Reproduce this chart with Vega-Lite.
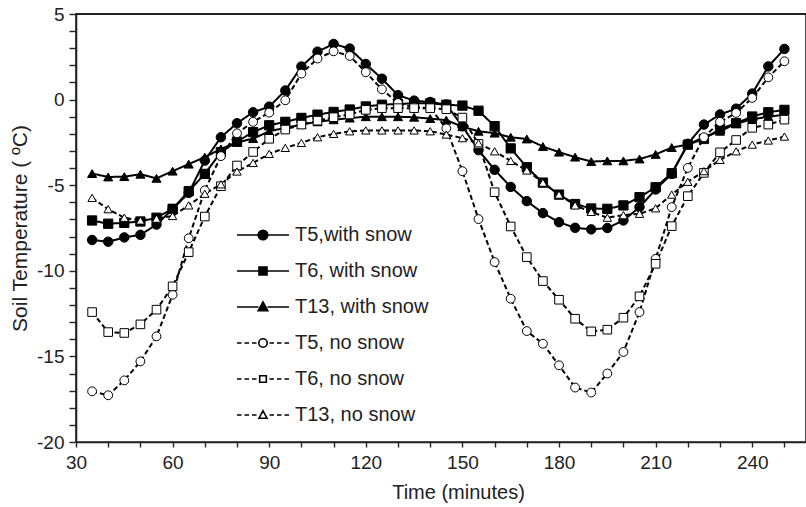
{
"$schema":"https://vega.github.io/schema/vega-lite/v6.json",
"width":730,"height":428,
"autosize":{"type":"none"},
"padding":{"left":76,"top":14,"right":0,"bottom":65},
"background":"white",
"config":{"view":{"stroke":"#222","strokeWidth":1.6},"font":"Liberation Sans",
 "axis":{"grid":false,"domainColor":"#222","tickColor":"#222","labelColor":"#222","titleColor":"#222","labelFont":"Liberation Sans","titleFont":"Liberation Sans","labelFontSize":19,"titleFontSize":20,"titleFontWeight":"normal","domainWidth":1.6,"tickWidth":1.4}},
"data":{"values":[
{"t":35,"v":-8.2,"series":"T5,with snow"},{"t":40,"v":-8.3,"series":"T5,with snow"},{"t":45,"v":-8.05,"series":"T5,with snow"},{"t":50,"v":-7.9,"series":"T5,with snow"},{"t":55,"v":-7.3,"series":"T5,with snow"},{"t":60,"v":-6.4,"series":"T5,with snow"},{"t":65,"v":-5.45,"series":"T5,with snow"},{"t":70,"v":-3.56,"series":"T5,with snow"},{"t":75,"v":-2.2,"series":"T5,with snow"},{"t":80,"v":-1.38,"series":"T5,with snow"},{"t":85,"v":-0.74,"series":"T5,with snow"},{"t":90,"v":-0.41,"series":"T5,with snow"},{"t":95,"v":0.53,"series":"T5,with snow"},{"t":100,"v":1.93,"series":"T5,with snow"},{"t":105,"v":2.8,"series":"T5,with snow"},{"t":110,"v":3.25,"series":"T5,with snow"},{"t":115,"v":2.98,"series":"T5,with snow"},{"t":120,"v":2.08,"series":"T5,with snow"},{"t":125,"v":1.22,"series":"T5,with snow"},{"t":130,"v":0.26,"series":"T5,with snow"},{"t":135,"v":-0.06,"series":"T5,with snow"},{"t":140,"v":-0.14,"series":"T5,with snow"},{"t":145,"v":-0.29,"series":"T5,with snow"},{"t":150,"v":-1.56,"series":"T5,with snow"},{"t":155,"v":-2.95,"series":"T5,with snow"},{"t":160,"v":-4.1,"series":"T5,with snow"},{"t":165,"v":-5.1,"series":"T5,with snow"},{"t":170,"v":-5.93,"series":"T5,with snow"},{"t":175,"v":-6.63,"series":"T5,with snow"},{"t":180,"v":-7.16,"series":"T5,with snow"},{"t":185,"v":-7.49,"series":"T5,with snow"},{"t":190,"v":-7.58,"series":"T5,with snow"},{"t":195,"v":-7.5,"series":"T5,with snow"},{"t":200,"v":-7.06,"series":"T5,with snow"},{"t":205,"v":-6.28,"series":"T5,with snow"},{"t":210,"v":-5.25,"series":"T5,with snow"},{"t":215,"v":-4.34,"series":"T5,with snow"},{"t":220,"v":-2.58,"series":"T5,with snow"},{"t":225,"v":-1.46,"series":"T5,with snow"},{"t":230,"v":-0.87,"series":"T5,with snow"},{"t":235,"v":-0.53,"series":"T5,with snow"},{"t":240,"v":0.35,"series":"T5,with snow"},{"t":245,"v":1.94,"series":"T5,with snow"},{"t":250,"v":2.96,"series":"T5,with snow"},
{"t":35,"v":-7.06,"series":"T6, with snow"},{"t":40,"v":-7.25,"series":"T6, with snow"},{"t":45,"v":-7.2,"series":"T6, with snow"},{"t":50,"v":-7.12,"series":"T6, with snow"},{"t":55,"v":-6.9,"series":"T6, with snow"},{"t":60,"v":-6.38,"series":"T6, with snow"},{"t":65,"v":-5.35,"series":"T6, with snow"},{"t":70,"v":-4.34,"series":"T6, with snow"},{"t":75,"v":-3.07,"series":"T6, with snow"},{"t":80,"v":-2.45,"series":"T6, with snow"},{"t":85,"v":-1.9,"series":"T6, with snow"},{"t":90,"v":-1.5,"series":"T6, with snow"},{"t":95,"v":-1.3,"series":"T6, with snow"},{"t":100,"v":-1.07,"series":"T6, with snow"},{"t":105,"v":-0.88,"series":"T6, with snow"},{"t":110,"v":-0.72,"series":"T6, with snow"},{"t":115,"v":-0.58,"series":"T6, with snow"},{"t":120,"v":-0.4,"series":"T6, with snow"},{"t":125,"v":-0.3,"series":"T6, with snow"},{"t":130,"v":-0.25,"series":"T6, with snow"},{"t":135,"v":-0.22,"series":"T6, with snow"},{"t":140,"v":-0.22,"series":"T6, with snow"},{"t":145,"v":-0.3,"series":"T6, with snow"},{"t":150,"v":-0.35,"series":"T6, with snow"},{"t":155,"v":-0.65,"series":"T6, with snow"},{"t":160,"v":-1.55,"series":"T6, with snow"},{"t":165,"v":-2.85,"series":"T6, with snow"},{"t":170,"v":-3.95,"series":"T6, with snow"},{"t":175,"v":-4.85,"series":"T6, with snow"},{"t":180,"v":-5.55,"series":"T6, with snow"},{"t":185,"v":-6.1,"series":"T6, with snow"},{"t":190,"v":-6.36,"series":"T6, with snow"},{"t":195,"v":-6.38,"series":"T6, with snow"},{"t":200,"v":-6.18,"series":"T6, with snow"},{"t":205,"v":-5.7,"series":"T6, with snow"},{"t":210,"v":-5.12,"series":"T6, with snow"},{"t":215,"v":-4.3,"series":"T6, with snow"},{"t":220,"v":-2.63,"series":"T6, with snow"},{"t":225,"v":-2.3,"series":"T6, with snow"},{"t":230,"v":-1.71,"series":"T6, with snow"},{"t":235,"v":-1.38,"series":"T6, with snow"},{"t":240,"v":-0.99,"series":"T6, with snow"},{"t":245,"v":-0.74,"series":"T6, with snow"},{"t":250,"v":-0.6,"series":"T6, with snow"},
{"t":35,"v":-4.32,"series":"T13, with snow"},{"t":40,"v":-4.52,"series":"T13, with snow"},{"t":45,"v":-4.5,"series":"T13, with snow"},{"t":50,"v":-4.36,"series":"T13, with snow"},{"t":55,"v":-4.6,"series":"T13, with snow"},{"t":60,"v":-4.18,"series":"T13, with snow"},{"t":65,"v":-3.77,"series":"T13, with snow"},{"t":70,"v":-3.36,"series":"T13, with snow"},{"t":75,"v":-2.88,"series":"T13, with snow"},{"t":80,"v":-2.5,"series":"T13, with snow"},{"t":85,"v":-2.28,"series":"T13, with snow"},{"t":90,"v":-1.85,"series":"T13, with snow"},{"t":95,"v":-1.65,"series":"T13, with snow"},{"t":100,"v":-1.46,"series":"T13, with snow"},{"t":105,"v":-1.3,"series":"T13, with snow"},{"t":110,"v":-1.18,"series":"T13, with snow"},{"t":115,"v":-1.08,"series":"T13, with snow"},{"t":120,"v":-1.0,"series":"T13, with snow"},{"t":125,"v":-1.0,"series":"T13, with snow"},{"t":130,"v":-1.0,"series":"T13, with snow"},{"t":135,"v":-1.03,"series":"T13, with snow"},{"t":140,"v":-1.11,"series":"T13, with snow"},{"t":145,"v":-1.2,"series":"T13, with snow"},{"t":150,"v":-1.58,"series":"T13, with snow"},{"t":155,"v":-1.85,"series":"T13, with snow"},{"t":160,"v":-1.96,"series":"T13, with snow"},{"t":165,"v":-2.2,"series":"T13, with snow"},{"t":170,"v":-2.3,"series":"T13, with snow"},{"t":175,"v":-2.74,"series":"T13, with snow"},{"t":180,"v":-3.07,"series":"T13, with snow"},{"t":185,"v":-3.36,"series":"T13, with snow"},{"t":190,"v":-3.62,"series":"T13, with snow"},{"t":195,"v":-3.58,"series":"T13, with snow"},{"t":200,"v":-3.58,"series":"T13, with snow"},{"t":205,"v":-3.47,"series":"T13, with snow"},{"t":210,"v":-3.2,"series":"T13, with snow"},{"t":215,"v":-2.8,"series":"T13, with snow"},{"t":220,"v":-2.63,"series":"T13, with snow"},{"t":225,"v":-2.2,"series":"T13, with snow"},{"t":230,"v":-1.85,"series":"T13, with snow"},{"t":235,"v":-1.4,"series":"T13, with snow"},{"t":240,"v":-1.15,"series":"T13, with snow"},{"t":245,"v":-1.0,"series":"T13, with snow"},{"t":250,"v":-0.88,"series":"T13, with snow"},
{"t":35,"v":-17.04,"series":"T5, no snow"},{"t":40,"v":-17.27,"series":"T5, no snow"},{"t":45,"v":-16.4,"series":"T5, no snow"},{"t":50,"v":-15.29,"series":"T5, no snow"},{"t":55,"v":-13.83,"series":"T5, no snow"},{"t":60,"v":-11.4,"series":"T5, no snow"},{"t":65,"v":-8.1,"series":"T5, no snow"},{"t":70,"v":-5.3,"series":"T5, no snow"},{"t":75,"v":-3.3,"series":"T5, no snow"},{"t":80,"v":-1.97,"series":"T5, no snow"},{"t":85,"v":-1.3,"series":"T5, no snow"},{"t":90,"v":-0.76,"series":"T5, no snow"},{"t":95,"v":-0.04,"series":"T5, no snow"},{"t":100,"v":1.52,"series":"T5, no snow"},{"t":105,"v":2.4,"series":"T5, no snow"},{"t":110,"v":2.82,"series":"T5, no snow"},{"t":115,"v":2.55,"series":"T5, no snow"},{"t":120,"v":1.6,"series":"T5, no snow"},{"t":125,"v":0.6,"series":"T5, no snow"},{"t":130,"v":-0.2,"series":"T5, no snow"},{"t":135,"v":-0.45,"series":"T5, no snow"},{"t":140,"v":-0.5,"series":"T5, no snow"},{"t":145,"v":-1.68,"series":"T5, no snow"},{"t":150,"v":-4.18,"series":"T5, no snow"},{"t":155,"v":-6.98,"series":"T5, no snow"},{"t":160,"v":-9.49,"series":"T5, no snow"},{"t":165,"v":-11.63,"series":"T5, no snow"},{"t":170,"v":-13.52,"series":"T5, no snow"},{"t":175,"v":-14.26,"series":"T5, no snow"},{"t":180,"v":-15.52,"series":"T5, no snow"},{"t":185,"v":-16.82,"series":"T5, no snow"},{"t":190,"v":-17.11,"series":"T5, no snow"},{"t":195,"v":-16.0,"series":"T5, no snow"},{"t":200,"v":-14.74,"series":"T5, no snow"},{"t":205,"v":-12.41,"series":"T5, no snow"},{"t":210,"v":-9.3,"series":"T5, no snow"},{"t":215,"v":-6.28,"series":"T5, no snow"},{"t":220,"v":-3.99,"series":"T5, no snow"},{"t":225,"v":-2.2,"series":"T5, no snow"},{"t":230,"v":-1.3,"series":"T5, no snow"},{"t":235,"v":-0.78,"series":"T5, no snow"},{"t":240,"v":0.1,"series":"T5, no snow"},{"t":245,"v":1.3,"series":"T5, no snow"},{"t":250,"v":2.24,"series":"T5, no snow"},
{"t":35,"v":-12.41,"series":"T6, no snow"},{"t":40,"v":-13.58,"series":"T6, no snow"},{"t":45,"v":-13.63,"series":"T6, no snow"},{"t":50,"v":-13.13,"series":"T6, no snow"},{"t":55,"v":-12.27,"series":"T6, no snow"},{"t":60,"v":-10.91,"series":"T6, no snow"},{"t":65,"v":-8.91,"series":"T6, no snow"},{"t":70,"v":-6.83,"series":"T6, no snow"},{"t":75,"v":-5.06,"series":"T6, no snow"},{"t":80,"v":-3.85,"series":"T6, no snow"},{"t":85,"v":-3.06,"series":"T6, no snow"},{"t":90,"v":-2.29,"series":"T6, no snow"},{"t":95,"v":-1.75,"series":"T6, no snow"},{"t":100,"v":-1.46,"series":"T6, no snow"},{"t":105,"v":-1.23,"series":"T6, no snow"},{"t":110,"v":-1.03,"series":"T6, no snow"},{"t":115,"v":-0.87,"series":"T6, no snow"},{"t":120,"v":-0.6,"series":"T6, no snow"},{"t":125,"v":-0.5,"series":"T6, no snow"},{"t":130,"v":-0.5,"series":"T6, no snow"},{"t":135,"v":-0.5,"series":"T6, no snow"},{"t":140,"v":-0.5,"series":"T6, no snow"},{"t":145,"v":-0.56,"series":"T6, no snow"},{"t":150,"v":-1.05,"series":"T6, no snow"},{"t":155,"v":-2.59,"series":"T6, no snow"},{"t":160,"v":-5.41,"series":"T6, no snow"},{"t":165,"v":-7.41,"series":"T6, no snow"},{"t":170,"v":-9.2,"series":"T6, no snow"},{"t":175,"v":-10.6,"series":"T6, no snow"},{"t":180,"v":-11.69,"series":"T6, no snow"},{"t":185,"v":-12.8,"series":"T6, no snow"},{"t":190,"v":-13.54,"series":"T6, no snow"},{"t":195,"v":-13.44,"series":"T6, no snow"},{"t":200,"v":-12.74,"series":"T6, no snow"},{"t":205,"v":-11.49,"series":"T6, no snow"},{"t":210,"v":-9.59,"series":"T6, no snow"},{"t":215,"v":-7.39,"series":"T6, no snow"},{"t":220,"v":-5.64,"series":"T6, no snow"},{"t":225,"v":-4.28,"series":"T6, no snow"},{"t":230,"v":-3.08,"series":"T6, no snow"},{"t":235,"v":-2.36,"series":"T6, no snow"},{"t":240,"v":-1.65,"series":"T6, no snow"},{"t":245,"v":-1.46,"series":"T6, no snow"},{"t":250,"v":-1.17,"series":"T6, no snow"},
{"t":35,"v":-5.74,"series":"T13, no snow"},{"t":40,"v":-6.4,"series":"T13, no snow"},{"t":45,"v":-6.9,"series":"T13, no snow"},{"t":50,"v":-7.06,"series":"T13, no snow"},{"t":55,"v":-6.95,"series":"T13, no snow"},{"t":60,"v":-6.8,"series":"T13, no snow"},{"t":65,"v":-6.18,"series":"T13, no snow"},{"t":70,"v":-5.5,"series":"T13, no snow"},{"t":75,"v":-4.95,"series":"T13, no snow"},{"t":80,"v":-4.2,"series":"T13, no snow"},{"t":85,"v":-3.7,"series":"T13, no snow"},{"t":90,"v":-3.17,"series":"T13, no snow"},{"t":95,"v":-2.82,"series":"T13, no snow"},{"t":100,"v":-2.53,"series":"T13, no snow"},{"t":105,"v":-2.2,"series":"T13, no snow"},{"t":110,"v":-2.0,"series":"T13, no snow"},{"t":115,"v":-1.85,"series":"T13, no snow"},{"t":120,"v":-1.8,"series":"T13, no snow"},{"t":125,"v":-1.8,"series":"T13, no snow"},{"t":130,"v":-1.8,"series":"T13, no snow"},{"t":135,"v":-1.8,"series":"T13, no snow"},{"t":140,"v":-1.85,"series":"T13, no snow"},{"t":145,"v":-2.04,"series":"T13, no snow"},{"t":150,"v":-2.25,"series":"T13, no snow"},{"t":155,"v":-2.55,"series":"T13, no snow"},{"t":160,"v":-3.02,"series":"T13, no snow"},{"t":165,"v":-3.58,"series":"T13, no snow"},{"t":170,"v":-4.14,"series":"T13, no snow"},{"t":175,"v":-4.85,"series":"T13, no snow"},{"t":180,"v":-5.55,"series":"T13, no snow"},{"t":185,"v":-6.18,"series":"T13, no snow"},{"t":190,"v":-6.56,"series":"T13, no snow"},{"t":195,"v":-6.9,"series":"T13, no snow"},{"t":200,"v":-6.75,"series":"T13, no snow"},{"t":205,"v":-6.67,"series":"T13, no snow"},{"t":210,"v":-6.35,"series":"T13, no snow"},{"t":215,"v":-5.55,"series":"T13, no snow"},{"t":220,"v":-4.8,"series":"T13, no snow"},{"t":225,"v":-4.18,"series":"T13, no snow"},{"t":230,"v":-3.52,"series":"T13, no snow"},{"t":235,"v":-3.02,"series":"T13, no snow"},{"t":240,"v":-2.63,"series":"T13, no snow"},{"t":245,"v":-2.39,"series":"T13, no snow"},{"t":250,"v":-2.16,"series":"T13, no snow"}
]},
"layer":[
 {"mark":{"type":"line","stroke":"black"},
  "encoding":{
   "x":{"field":"t","type":"quantitative","scale":{"domain":[30,256.7],"nice":false,"zero":false},
    "axis":{"orient":"bottom","values":[30,40,50,60,70,80,90,100,110,120,130,140,150,160,170,180,190,200,210,220,230,240,250],"tickSize":5,"labelPadding":6,"labelFlush":false,"labelOverlap":false,"labelExpr":"datum.value % 30 === 0 ? '' + datum.value : ''","title":"Time (minutes)","titlePadding":10,"titleX":382,
     "encode":{"ticks":{"update":{"y":{"value":-6},"y2":{"signal":"datum.value % 30 === 0 ? 5 : 0"}}}}}},
   "y":{"field":"v","type":"quantitative","scale":{"domain":[-20,5],"nice":false,"zero":false},
    "axis":{"orient":"left","values":[-20,-19,-18,-17,-16,-15,-14,-13,-12,-11,-10,-9,-8,-7,-6,-5,-4,-3,-2,-1,0,1,2,3,4,5],"tickSize":7,"labelPadding":5,"labelFlush":false,"labelOverlap":false,"labelExpr":"datum.value % 5 === 0 ? '' + datum.value : ''","title":"Soil Temperature ( ºC)","titleFontSize":21,"titlePadding":6,
     "encode":{"ticks":{"update":{"x2":{"signal":"datum.value % 5 === 0 ? -7 : 5"}}}}}},
   "strokeDash":{"field":"series","type":"nominal","scale":{"domain":["T5,with snow","T6, with snow","T13, with snow","T5, no snow","T6, no snow","T13, no snow"],"range":[[1,0],[1,0],[1,0],[5,3],[5,3],[5,3]]},"legend":null},
   "strokeWidth":{"field":"series","type":"nominal","scale":{"domain":["T5,with snow","T6, with snow","T13, with snow","T5, no snow","T6, no snow","T13, no snow"],"range":[2,2,2,1.6,1.6,1.6]},"legend":null}}},
 {"mark":{"type":"point","stroke":"black","strokeWidth":1,"opacity":1},
  "encoding":{
   "x":{"field":"t","type":"quantitative","scale":{"domain":[30,256.7],"nice":false,"zero":false},"axis":null},
   "y":{"field":"v","type":"quantitative","scale":{"domain":[-20,5],"nice":false,"zero":false},"axis":null},
   "shape":{"field":"series","type":"nominal","scale":{"domain":["T5,with snow","T6, with snow","T13, with snow","T5, no snow","T6, no snow","T13, no snow"],"range":["circle","square","triangle-up","circle","square","triangle-up"]},"legend":null},
   "fill":{"field":"series","type":"nominal","scale":{"domain":["T5,with snow","T6, with snow","T13, with snow","T5, no snow","T6, no snow","T13, no snow"],"range":["black","black","black","white","white","white"]},"legend":null},
   "size":{"field":"series","type":"nominal","scale":{"domain":["T5,with snow","T6, with snow","T13, with snow","T5, no snow","T6, no snow","T13, no snow"],"range":[90,70,75,80,50,55]},"legend":null}}},
 {"mark":{"type":"point","opacity":0,"strokeWidth":1.6},
  "encoding":{
   "x":{"field":"t","type":"quantitative","scale":{"domain":[30,256.7],"nice":false,"zero":false},"axis":null},
   "y":{"field":"v","type":"quantitative","scale":{"domain":[-20,5],"nice":false,"zero":false},"axis":null},
   "shape":{"field":"series","type":"nominal","scale":{"domain":["T5,with snow","T6, with snow","T13, with snow","T5, no snow","T6, no snow","T13, no snow"],"range":[
     "M-1,0H1.12M2.08,0H4.2M2.08,0A0.48,0.48 0 1,1 1.12,0A0.48,0.48 0 1,1 2.08,0Z",
     "M-1,0H1.2M2,0H4.2M1.2,-0.4H2V0.4H1.2Z",
     "M-1,0H1.15M2.05,0H4.2M1.6,-0.5L2.08,0.38H1.12Z",
     "M-1,0H-0.55M-0.25,0H0.2M0.5,0H0.95M2.25,0H2.7M3,0H3.45M3.75,0H4.2M2.02,0A0.42,0.42 0 1,1 1.18,0A0.42,0.42 0 1,1 2.02,0Z",
     "M-1,0H-0.55M-0.25,0H0.2M0.5,0H0.95M2.25,0H2.7M3,0H3.45M3.75,0H4.2M1.27,-0.33H1.93V0.33H1.27Z",
     "M-1,0H-0.55M-0.25,0H0.2M0.5,0H0.95M2.25,0H2.7M3,0H3.45M3.75,0H4.2M1.6,-0.42L2,0.32H1.2Z"]},
    "legend":{"orient":"none","legendX":160,"legendY":210,"title":null,"symbolSize":400,"symbolOpacity":1,"symbolStrokeWidth":1.6,"labelFontSize":20,"labelFont":"Liberation Sans","labelColor":"#222","labelOffset":37,"rowPadding":15,"padding":0}},
   "fill":{"field":"series","type":"nominal","scale":{"domain":["T5,with snow","T6, with snow","T13, with snow","T5, no snow","T6, no snow","T13, no snow"],"range":["black","black","black","white","white","white"]},
    "legend":{"orient":"none","legendX":160,"legendY":210,"title":null,"symbolSize":400,"symbolOpacity":1,"symbolStrokeWidth":1.6,"labelFontSize":20,"labelFont":"Liberation Sans","labelColor":"#222","labelOffset":37,"rowPadding":15,"padding":0}},
   "stroke":{"field":"series","type":"nominal","scale":{"domain":["T5,with snow","T6, with snow","T13, with snow","T5, no snow","T6, no snow","T13, no snow"],"range":["black","black","black","black","black","black"]},
    "legend":{"orient":"none","legendX":160,"legendY":210,"title":null,"symbolSize":400,"symbolOpacity":1,"symbolStrokeWidth":1.6,"labelFontSize":20,"labelFont":"Liberation Sans","labelColor":"#222","labelOffset":37,"rowPadding":15,"padding":0}}}},
 {"data":{"values":[{"frame":"top"}]},
  "mark":{"type":"rule","color":"#222","strokeWidth":2},
  "encoding":{
   "x":{"datum":30,"type":"quantitative","axis":null},
   "x2":{"datum":256.7},
   "y":{"datum":5,"type":"quantitative","axis":null}}}
],
"resolve":{"axis":{"x":"independent","y":"independent"},"scale":{"shape":"independent","fill":"independent","stroke":"independent"}}
}
